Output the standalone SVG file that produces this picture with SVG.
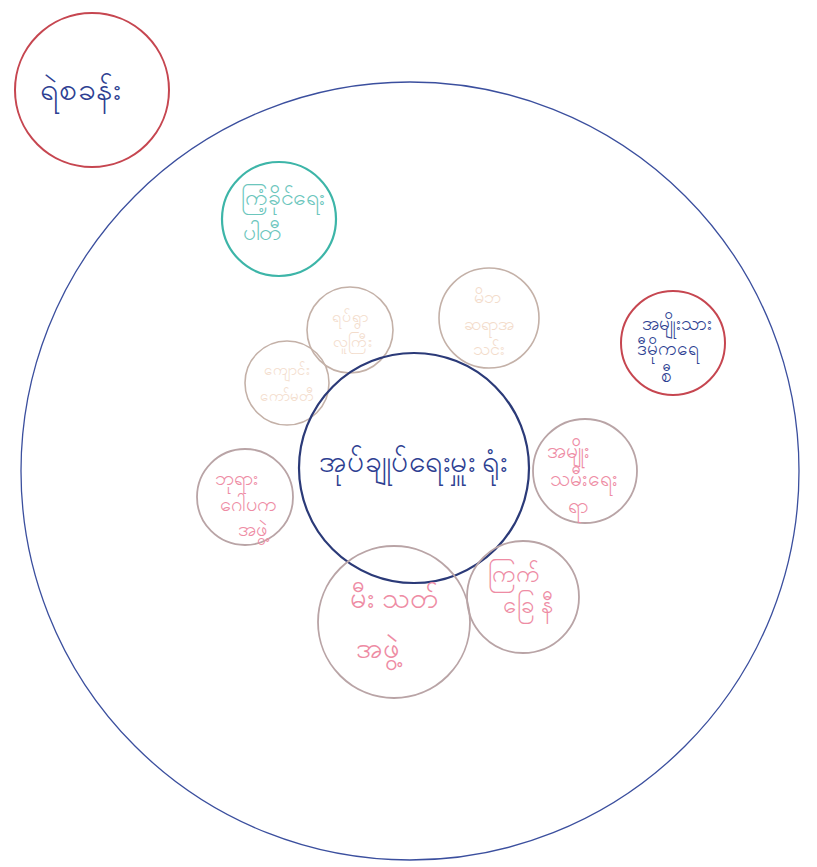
<svg xmlns="http://www.w3.org/2000/svg" width="817" height="867" viewBox="0 0 817 867">
<style>
text{font-family:"Noto Sans","DejaVu Sans",sans-serif;text-anchor:middle}
.c{fill:none}
.outer{stroke:#3b4f9e;stroke-width:1.3}
.core{stroke:#2b3a78;stroke-width:2.2}
.red{stroke:#c64650;stroke-width:2}
.teal{stroke:#3db5a8;stroke-width:2.2}
.mauve{stroke:#b9a4a6;stroke-width:1.8}
.tan{stroke:#c4b1a8;stroke-width:1.6}
.tb{fill:#2e3f92}
.tp{fill:#ee8ca4}
.tt{fill:#6cc6bd}
.tf{fill:#f3dccb}
</style>
<rect width="817" height="867" fill="#ffffff"/>
<g id="community">
<circle class="c outer" cx="410" cy="471" r="389"/>
</g>
<g id="police">
<circle class="c red" cx="92" cy="90" r="77"/>
<text class="tb" x="80" y="100" font-size="32">ရဲစခန်း</text>
</g>
<g id="usdp">
<circle class="c teal" cx="279" cy="219" r="57"/>
<text class="tt" font-size="23"><tspan x="283" y="205">ကြံ့ခိုင်ရေး</tspan><tspan x="262" y="240">ပါတီ</tspan></text>
</g>
<g id="nld">
<circle class="c red" cx="673" cy="343" r="52"/>
<text class="tb" font-size="19"><tspan x="677" y="330">အမျိုးသား</tspan><tspan x="668" y="355">ဒီမိုကရေ</tspan><tspan x="666" y="382">စီ</tspan></text>
</g>
<g id="group-top">
<circle class="c tan" cx="350" cy="330" r="43"/>
<text class="tf" font-size="16"><tspan x="350" y="322">ရပ်ရွာ</tspan><tspan x="352" y="347">လူကြီး</tspan></text>
</g>
<g id="group-left">
<circle class="c tan" cx="287" cy="383" r="42"/>
<text class="tf" font-size="15"><tspan x="287" y="375">ကျောင်း</tspan><tspan x="287" y="401">ကော်မတီ</tspan></text>
</g>
<g id="pta">
<circle class="c tan" cx="489" cy="318" r="50"/>
<text class="tf" font-size="18"><tspan x="487" y="303">မိဘ</tspan><tspan x="489" y="330">ဆရာအ</tspan><tspan x="489" y="355">သင်း</tspan></text>
</g>
<g id="office">
<circle class="c core" cx="414" cy="468" r="115"/>
<text class="tb" x="413" y="472" font-size="30">အုပ်ချုပ်ရေးမှူး ရုံး</text>
</g>
<g id="pagoda">
<circle class="c mauve" cx="245" cy="497" r="48"/>
<text class="tp" font-size="20"><tspan x="236" y="485">ဘုရား</tspan><tspan x="248" y="511">ဂေါပက</tspan><tspan x="252" y="536">အဖွဲ့</tspan></text>
</g>
<g id="women">
<circle class="c mauve" cx="585" cy="471" r="52"/>
<text class="tp" font-size="21"><tspan x="568" y="458">အမျိုး</tspan><tspan x="584" y="486">သမီးရေး</tspan><tspan x="578" y="513">ရာ</tspan></text>
</g>
<g id="fire">
<circle class="c mauve" cx="394" cy="622" r="76"/>
<text class="tp" font-size="29"><tspan x="394" y="608">မီး သတ်</tspan><tspan x="378" y="658">အဖွဲ့</tspan></text>
</g>
<g id="redcross">
<circle class="c mauve" cx="523" cy="597" r="56"/>
<text class="tp" font-size="24"><tspan x="514" y="582">ကြက်</tspan><tspan x="528" y="613">ခြေ နီ</tspan></text>
</g>
<g id="connectors"/>
</svg>
